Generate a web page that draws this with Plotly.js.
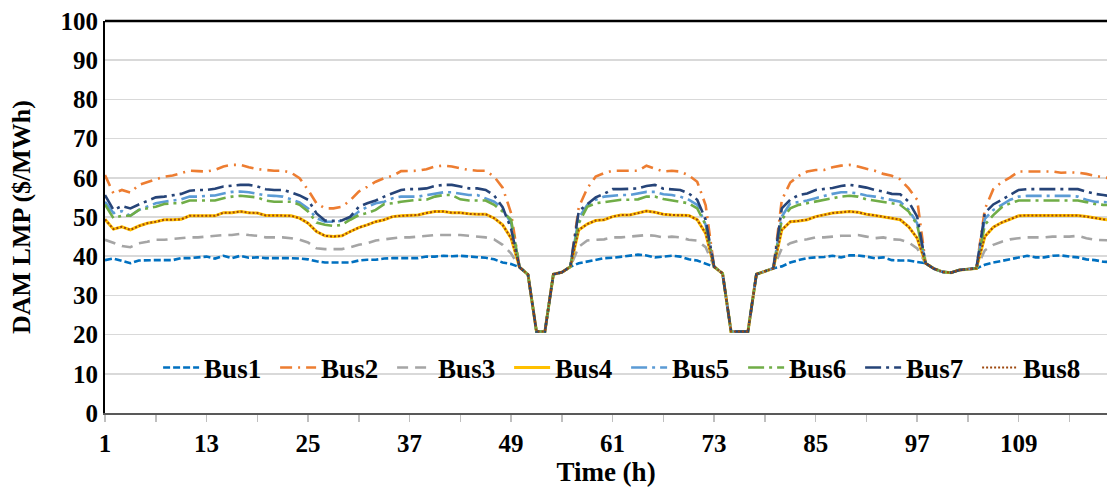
<!DOCTYPE html>
<html>
<head>
<meta charset="utf-8">
<script src="https://cdn.plot.ly/plotly-3.0.1.min.js"></script>
<style>
  html, body { margin: 0; padding: 0; background: #ffffff; }
  #chart { width: 1107px; height: 492px; }
</style>
</head>
<body>
<div id="chart"></div>
<script>
// Hours 1..120
const hours = [];
for (let h = 1; h <= 120; h++) hours.push(h);

const seriesNames = ['Bus1', 'Bus2', 'Bus3', 'Bus4', 'Bus5', 'Bus6', 'Bus7', 'Bus8'];

const bus1 = [
  39.0, 39.4, 38.8, 38.2, 38.9, 39.0, 39.0, 39.0, 39.0, 39.5, 39.5, 39.7,
  39.9, 39.4, 40.1, 39.5, 40.1, 39.6, 39.7, 39.5, 39.5, 39.6, 39.5, 39.4,
  39.2, 38.7, 38.4, 38.4, 38.4, 38.4, 38.9, 39.1, 39.1, 39.4, 39.5, 39.5,
  39.5, 39.5, 39.9, 39.9, 40.1, 40.0, 40.1, 39.9, 39.7, 39.6, 39.2, 38.4,
  38.0, 37.2, 35.3, 20.8, 20.8, 35.4, 35.9, 37.3, 38.2, 38.6, 39.0, 39.5,
  39.6, 39.9, 40.1, 40.4, 40.2, 39.7, 39.9, 40.1, 39.9, 39.2, 38.9, 38.2,
  37.3, 35.6, 20.8, 20.8, 20.8, 35.4, 36.2, 36.9, 37.4, 38.4, 39.0, 39.5,
  39.7, 39.8, 40.1, 39.7, 40.2, 40.2, 39.9, 39.5, 39.7, 39.0, 38.9, 38.9,
  38.5, 38.2, 36.8, 36.0, 35.8, 36.5, 36.7, 36.9, 37.8, 38.4, 38.8, 39.2,
  39.7, 40.1, 39.7, 39.7, 40.1, 40.2, 39.9, 39.7, 39.2, 39.0, 38.6, 38.5
];
const bus2 = [
  60.7, 56.0, 56.9, 56.2, 58.2, 58.9, 59.5, 60.3, 60.6, 61.2, 61.8, 61.7,
  61.6, 62.0, 62.9, 63.3, 63.3, 62.7, 62.2, 62.0, 61.8, 61.8, 61.3, 59.9,
  56.9, 53.5, 52.2, 52.2, 52.6, 54.3, 56.5, 57.7, 59.0, 59.9, 60.5, 61.7,
  61.8, 61.8, 62.2, 62.9, 63.1, 62.9, 62.4, 62.0, 61.8, 61.8, 60.3, 57.5,
  51.0, 37.2, 35.3, 20.8, 20.8, 35.4, 35.9, 37.3, 52.5, 57.3, 60.3, 61.2,
  61.8, 61.8, 61.8, 61.8, 63.1, 62.4, 61.6, 61.8, 61.6, 60.6, 59.0, 53.0,
  37.3, 35.6, 20.8, 20.8, 20.8, 35.4, 36.2, 36.9, 54.3, 58.8, 60.5, 61.6,
  62.0, 62.0, 62.7, 63.1, 63.3, 62.9, 62.3, 61.8, 61.0, 60.5, 59.6, 57.3,
  54.4, 38.2, 36.8, 36.0, 35.8, 36.5, 36.7, 36.9, 52.0, 57.1, 58.9, 60.1,
  61.6, 61.6, 61.7, 61.7, 61.6, 61.3, 61.4, 61.3, 61.0, 60.5, 60.1, 59.8
];
const bus3 = [
  44.2, 43.3, 42.6, 42.3, 43.3, 43.7, 44.2, 44.2, 44.4, 44.6, 44.8, 44.8,
  45.0, 45.2, 45.4, 45.4, 45.7, 45.4, 45.2, 44.8, 44.8, 44.8, 44.6, 44.2,
  43.5, 42.0, 41.8, 41.8, 41.8, 42.3, 42.9, 43.3, 44.0, 44.3, 44.6, 44.8,
  44.8, 45.0, 45.2, 45.4, 45.4, 45.4, 45.4, 45.2, 45.0, 44.8, 44.3, 42.9,
  40.7, 37.2, 35.3, 20.8, 20.8, 35.4, 35.9, 37.3, 42.4, 44.0, 44.2, 44.3,
  44.8, 44.8, 45.0, 45.2, 45.4, 45.2, 44.8, 45.0, 44.8, 44.2, 44.0, 42.3,
  37.3, 35.6, 20.8, 20.8, 20.8, 35.4, 36.2, 36.9, 42.0, 43.3, 44.0, 44.3,
  44.8, 44.8, 45.0, 45.2, 45.2, 45.4, 45.0, 44.6, 44.8, 44.3, 44.2, 43.5,
  42.0, 38.2, 36.8, 36.0, 35.8, 36.5, 36.7, 36.9, 41.5, 42.9, 43.7, 44.3,
  44.6, 44.8, 44.8, 44.8, 45.0, 45.0, 45.0, 45.2, 44.6, 44.2, 44.0, 44.0
];
const bus4 = [
  49.4, 46.9, 47.5, 46.7, 47.7, 48.4, 48.8, 49.3, 49.3, 49.4, 50.3, 50.3,
  50.3, 50.3, 51.1, 51.1, 51.4, 51.1, 51.0, 50.4, 50.4, 50.4, 50.3, 49.7,
  48.4, 46.3, 45.2, 45.0, 45.2, 46.3, 47.3, 48.0, 48.8, 49.3, 50.1, 50.3,
  50.4, 50.5, 51.0, 51.4, 51.4, 51.1, 51.1, 50.8, 50.7, 50.7, 49.7, 48.0,
  44.6, 37.2, 35.3, 20.8, 20.8, 35.4, 35.9, 37.3, 46.7, 48.2, 49.1, 49.3,
  50.1, 50.5, 50.5, 51.0, 51.5, 51.2, 50.7, 50.5, 50.5, 50.4, 49.3, 45.8,
  37.3, 35.6, 20.8, 20.8, 20.8, 35.4, 36.2, 36.9, 46.7, 48.8, 49.0, 49.3,
  50.1, 50.6, 51.0, 51.2, 51.4, 51.2, 50.7, 50.4, 50.1, 49.7, 49.3, 47.5,
  44.6, 38.2, 36.8, 36.0, 35.8, 36.5, 36.7, 36.9, 45.0, 47.4, 48.6, 49.4,
  50.3, 50.4, 50.4, 50.4, 50.4, 50.4, 50.4, 50.4, 50.1, 49.7, 49.4, 49.2
];
const bus5 = [
  53.9, 51.0, 51.5, 50.3, 51.8, 52.6, 53.5, 53.9, 54.2, 54.5, 55.2, 55.2,
  55.4, 55.5, 56.0, 56.4, 56.5, 56.3, 55.9, 55.5, 55.4, 55.2, 54.5, 53.7,
  52.2, 49.7, 48.8, 48.8, 49.0, 49.7, 51.4, 52.6, 53.5, 53.9, 54.8, 55.2,
  55.2, 55.2, 55.6, 56.0, 56.3, 56.3, 56.0, 55.6, 55.6, 54.8, 53.9, 52.2,
  48.4, 37.2, 35.3, 20.8, 20.8, 35.4, 35.9, 37.3, 49.7, 53.1, 54.4, 55.2,
  55.4, 55.6, 55.6, 56.0, 56.4, 56.4, 55.8, 55.6, 55.2, 54.4, 53.1, 48.0,
  37.3, 35.6, 20.8, 20.8, 20.8, 35.4, 36.2, 36.9, 50.1, 53.5, 53.8, 54.2,
  54.8, 55.4, 55.9, 56.3, 56.3, 56.0, 55.5, 55.2, 54.8, 54.4, 53.9, 51.8,
  48.4, 38.2, 36.8, 36.0, 35.8, 36.5, 36.7, 36.9, 49.5, 51.8, 53.1, 54.4,
  55.2, 55.4, 55.4, 55.4, 55.4, 55.4, 55.4, 55.2, 54.4, 53.9, 53.8, 53.7
];
const bus6 = [
  53.2, 49.7, 50.3, 50.3, 51.8, 52.2, 52.6, 53.3, 53.5, 53.5, 54.2, 54.2,
  54.2, 54.2, 54.8, 55.2, 55.4, 55.2, 55.0, 54.2, 53.9, 53.9, 53.9, 53.1,
  51.4, 48.6, 48.0, 47.7, 48.0, 49.3, 50.5, 51.0, 51.8, 53.3, 53.5, 53.9,
  54.2, 54.4, 54.4, 55.2, 55.6, 55.6, 54.5, 54.2, 54.2, 54.2, 53.1, 51.4,
  49.3, 37.2, 35.3, 20.8, 20.8, 35.4, 35.9, 37.3, 48.4, 52.6, 53.5, 53.8,
  54.2, 54.4, 54.4, 54.5, 55.2, 55.2, 54.6, 54.2, 53.8, 53.5, 52.2, 48.0,
  37.3, 35.6, 20.8, 20.8, 20.8, 35.4, 36.2, 36.9, 49.3, 52.2, 53.1, 53.5,
  53.9, 54.4, 54.8, 55.2, 55.4, 55.2, 54.5, 54.2, 53.9, 53.5, 53.1, 51.4,
  48.0, 38.2, 36.8, 36.0, 35.8, 36.5, 36.7, 36.9, 48.0, 50.5, 52.5, 53.5,
  54.2, 54.2, 54.2, 54.2, 54.2, 54.2, 54.2, 54.2, 53.8, 53.3, 53.1, 53.0
];
const bus7 = [
  55.6, 51.8, 52.8, 52.2, 53.2, 54.2, 55.0, 55.2, 55.6, 55.9, 56.7, 56.9,
  56.9, 57.2, 57.8, 58.0, 58.2, 58.2, 57.8, 57.1, 56.9, 56.9, 56.3, 55.5,
  54.4, 50.9, 49.1, 49.0, 49.1, 50.1, 52.6, 53.5, 54.2, 55.2, 56.0, 56.9,
  57.1, 57.1, 57.3, 57.9, 58.2, 58.2, 57.8, 57.3, 57.3, 56.9, 55.5, 52.5,
  47.0, 37.2, 35.3, 20.8, 20.8, 35.4, 35.9, 37.3, 51.5, 53.3, 55.0, 55.9,
  57.1, 57.1, 57.2, 57.3, 57.9, 58.2, 57.2, 57.1, 56.9, 56.0, 54.4, 49.3,
  37.3, 35.6, 20.8, 20.8, 20.8, 35.4, 36.2, 36.9, 52.2, 54.4, 55.6, 56.0,
  56.9, 57.1, 57.4, 57.9, 58.2, 57.9, 57.5, 56.9, 56.5, 55.9, 55.8, 53.9,
  50.1, 38.2, 36.8, 36.0, 35.8, 36.5, 36.7, 36.9, 51.0, 53.2, 54.4, 55.6,
  56.9, 57.1, 57.1, 57.1, 57.1, 57.1, 57.1, 57.1, 56.5, 55.9, 55.6, 55.3
];
const bus8 = [
  49.4, 46.9, 47.5, 46.7, 47.7, 48.4, 48.8, 49.3, 49.3, 49.4, 50.3, 50.3,
  50.3, 50.3, 51.1, 51.1, 51.4, 51.1, 51.0, 50.4, 50.4, 50.4, 50.3, 49.7,
  48.4, 46.3, 45.2, 45.0, 45.2, 46.3, 47.3, 48.0, 48.8, 49.3, 50.1, 50.3,
  50.4, 50.5, 51.0, 51.4, 51.4, 51.1, 51.1, 50.8, 50.7, 50.7, 49.7, 48.0,
  44.6, 37.2, 35.3, 20.8, 20.8, 35.4, 35.9, 37.3, 46.7, 48.2, 49.1, 49.3,
  50.1, 50.5, 50.5, 51.0, 51.5, 51.2, 50.7, 50.5, 50.5, 50.4, 49.3, 45.8,
  37.3, 35.6, 20.8, 20.8, 20.8, 35.4, 36.2, 36.9, 46.7, 48.8, 49.0, 49.3,
  50.1, 50.6, 51.0, 51.2, 51.4, 51.2, 50.7, 50.4, 50.1, 49.7, 49.3, 47.5,
  44.6, 38.2, 36.8, 36.0, 35.8, 36.5, 36.7, 36.9, 45.0, 47.4, 48.6, 49.4,
  50.3, 50.4, 50.4, 50.4, 50.4, 50.4, 50.4, 50.4, 50.1, 49.7, 49.4, 49.2
];

const xTickVals = [1, 7, 13, 19, 25, 31, 37, 43, 49, 55, 61, 67, 73, 79, 85, 91, 97, 103, 109, 115];
const xTickText = ['1', '', '13', '', '25', '', '37', '', '49', '', '61', '', '73', '', '85', '', '97', '', '109', ''];
const yTickVals = [0, 10, 20, 30, 40, 50, 60, 70, 80, 90, 100];

const seriesValues = [bus1, bus2, bus3, bus4, bus5, bus6, bus7, bus8];
const styles = [
  { color: '#0070C0', dash: '7px,3px', width: 2.6 },
  { color: '#ED7D31', dash: '12px,6px,2px,6px', width: 2.6 },
  { color: '#A5A5A5', dash: '11px,7px', width: 2.6 },
  { color: '#FFC000', dash: 'solid', width: 3 },
  { color: '#5B9BD5', dash: '16px,5px,3px,5px', width: 2.6 },
  { color: '#70AD47', dash: '16px,5px,3px,5px', width: 2.6 },
  { color: '#264478', dash: '16px,5px,3px,5px', width: 2.6 },
  { color: '#9E480E', dash: '2px,2px', width: 2 }
];

const traces = seriesNames.map((name, i) => ({
  type: 'scatter',
  mode: 'lines',
  name: name,
  x: hours,
  y: seriesValues[i],
  line: { color: styles[i].color, dash: styles[i].dash, width: styles[i].width },
  hoverinfo: 'x+y+name'
}));

const FONT = 'Liberation Serif, Times New Roman, serif';

const layout = {
  width: 1107,
  height: 492,
  margin: { l: 105, r: 0, t: 21, b: 79 },
  paper_bgcolor: '#ffffff',
  plot_bgcolor: '#ffffff',
  font: { family: FONT, color: '#000000', size: 24, weight: 'bold' },
  showlegend: true,
  legend: {
    orientation: 'h',
    x: 0.053,
    xanchor: 'left',
    y: 0.115,
    yanchor: 'middle',
    bgcolor: 'rgba(0,0,0,0)',
    font: { family: FONT, size: 27, color: '#000000', weight: 'bold' },
    entrywidth: 66,
    entrywidthmode: 'pixels',
    itemwidth: 36,
    tracegroupgap: 0
  },
  xaxis: {
    range: [1, 119.44],
    tickmode: 'array',
    tickvals: xTickVals,
    ticktext: xTickText,
    ticks: 'outside',
    ticklen: 7,
    tickwidth: 1.5,
    tickcolor: '#BFBFBF',
    showgrid: false,
    zeroline: false,
    showline: true,
    linecolor: '#595959',
    linewidth: 2,
    tickfont: { family: FONT, size: 25, color: '#000000', weight: 'bold' },
    title: { text: 'Time (h)', font: { family: FONT, size: 27, color: '#000000', weight: 'bold' }, standoff: 6 },
    fixedrange: true
  },
  yaxis: {
    range: [0, 100],
    tickmode: 'array',
    tickvals: yTickVals,
    ticks: '',
    showgrid: true,
    gridcolor: '#D9D9D9',
    gridwidth: 1.5,
    zeroline: false,
    showline: true,
    linecolor: '#000000',
    linewidth: 2,
    tickfont: { family: FONT, size: 25, color: '#000000', weight: 'bold' },
    title: { text: 'DAM LMP ($/MWh)', font: { family: FONT, size: 26, color: '#000000', weight: 'bold' }, standoff: 22 },
    fixedrange: true
  },
  shapes: [
    { type: 'line', xref: 'paper', yref: 'paper', x0: 0, x1: 1, y0: 1, y1: 1, line: { color: '#000000', width: 2.5 } }
  ]
};

Plotly.newPlot('chart', traces, layout, { displayModeBar: false, staticPlot: true });
</script>
</body>
</html>
